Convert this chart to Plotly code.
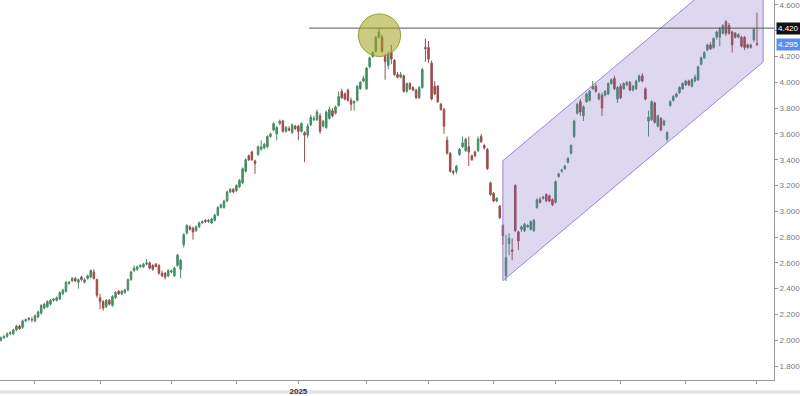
import plotly.graph_objects as go
import pandas as pd

# ---------------- data ----------------
holidays = ["2024-12-25", "2024-12-26", "2025-01-01", "2025-04-18", "2025-04-21", "2025-05-01"]
dates = [d for d in pd.bdate_range("2024-08-16", "2025-08-01") if d.strftime("%Y-%m-%d") not in holidays]

open_ = [
    2.00, 2.02, 2.03, 2.05, 2.05, 2.08, 2.11, 2.10, 2.15, 2.16,
    2.16, 2.15, 2.18, 2.21, 2.25, 2.26, 2.28, 2.31, 2.31, 2.32,
    2.36, 2.38, 2.44, 2.46, 2.48, 2.45, 2.49, 2.45, 2.48, 2.49,
    2.53, 2.47, 2.33, 2.30, 2.26, 2.31, 2.27, 2.33, 2.38, 2.36,
    2.37, 2.39, 2.47, 2.54, 2.55, 2.57, 2.57, 2.59, 2.60, 2.58,
    2.59, 2.58, 2.52, 2.52, 2.50, 2.53, 2.50, 2.58, 2.55, 2.74,
    2.83, 2.88, 2.87, 2.85, 2.88, 2.91, 2.93, 2.92, 2.91, 2.93,
    2.97, 3.03, 3.03, 3.08, 3.15, 3.17, 3.16, 3.19, 3.22, 3.31,
    3.43, 3.46, 3.39, 3.44, 3.48, 3.49, 3.50, 3.58, 3.63, 3.60,
    3.68, 3.70, 3.62, 3.64, 3.61, 3.66, 3.66, 3.62, 3.61, 3.59,
    3.67, 3.71, 3.71, 3.74, 3.66, 3.65, 3.72, 3.78, 3.76, 3.82,
    3.93, 3.91, 3.94, 3.86, 3.84, 3.86, 3.95, 4.01, 3.95, 4.12,
    4.20, 4.24, 4.35, 4.35, 4.20, 4.13, 4.23, 4.17, 4.06, 4.04,
    4.05, 3.93, 3.99, 3.96, 3.94, 3.88, 3.96, 4.27, 4.27, 4.15,
    3.97, 3.97, 3.83, 3.79, 3.55, 3.45, 3.31, 3.31, 3.44, 3.50,
    3.47, 3.50, 3.43, 3.46, 3.47, 3.58, 3.51, 3.48, 3.22, 3.14,
    3.08, 3.04, 2.89, 2.50, 2.75, 2.70, 3.20, 2.84, 2.86, 2.85,
    2.88, 2.86, 2.85, 3.03, 3.09, 3.10, 3.13, 3.12, 3.09, 3.07,
    3.27, 3.31, 3.33, 3.38, 3.45, 3.58, 3.76, 3.85, 3.74, 3.85,
    3.86, 3.95, 3.97, 3.87, 3.90, 3.90, 3.91, 3.99, 4.03, 3.87,
    3.97, 3.95, 3.98, 4.00, 3.94, 3.95, 4.01, 4.05, 3.95, 3.70,
    3.71, 3.84, 3.66, 3.72, 3.67, 3.56, 3.82, 3.86, 3.89, 3.92,
    3.95, 3.98, 4.01, 3.97, 4.01, 4.02, 4.14, 4.19, 4.25, 4.29,
    4.27, 4.35, 4.35, 4.38, 4.47, 4.44, 4.39, 4.38, 4.35, 4.35,
    4.35, 4.29, 4.27, 4.33, 4.30,
]
high = [
    2.03, 2.04, 2.06, 2.07, 2.09, 2.12, 2.12, 2.16, 2.17, 2.18,
    2.18, 2.20, 2.23, 2.28, 2.29, 2.31, 2.32, 2.33, 2.34, 2.38,
    2.40, 2.46, 2.46, 2.49, 2.49, 2.48, 2.50, 2.48, 2.51, 2.55,
    2.55, 2.48, 2.36, 2.31, 2.32, 2.32, 2.35, 2.38, 2.39, 2.39,
    2.40, 2.48, 2.54, 2.58, 2.58, 2.59, 2.60, 2.63, 2.61, 2.59,
    2.60, 2.59, 2.54, 2.53, 2.55, 2.55, 2.57, 2.67, 2.63, 2.83,
    2.90, 2.89, 2.88, 2.89, 2.92, 2.93, 2.94, 2.94, 2.95, 2.98,
    3.04, 3.06, 3.09, 3.16, 3.18, 3.18, 3.21, 3.25, 3.34, 3.41,
    3.44, 3.47, 3.40, 3.51, 3.55, 3.53, 3.59, 3.61, 3.69, 3.66,
    3.71, 3.71, 3.66, 3.66, 3.68, 3.67, 3.67, 3.69, 3.62, 3.68,
    3.75, 3.74, 3.79, 3.76, 3.71, 3.78, 3.81, 3.80, 3.82, 3.93,
    3.95, 3.92, 3.95, 3.88, 3.86, 3.98, 4.01, 4.05, 4.12, 4.20,
    4.24, 4.36, 4.42, 4.37, 4.22, 4.24, 4.29, 4.18, 4.08, 4.08,
    4.06, 4.00, 4.00, 3.97, 3.95, 3.97, 4.11, 4.34, 4.32, 4.17,
    4.01, 3.98, 3.84, 3.80, 3.58, 3.46, 3.32, 3.36, 3.49, 3.58,
    3.57, 3.58, 3.44, 3.47, 3.58, 3.60, 3.52, 3.49, 3.23, 3.15,
    3.11, 3.05, 2.90, 2.82, 2.83, 2.79, 3.21, 2.85, 2.89, 2.91,
    2.90, 2.93, 2.94, 3.10, 3.11, 3.12, 3.14, 3.13, 3.10, 3.24,
    3.30, 3.33, 3.36, 3.42, 3.52, 3.71, 3.84, 3.87, 3.82, 3.92,
    3.94, 4.01, 3.99, 3.92, 3.92, 3.94, 4.00, 4.03, 4.05, 3.97,
    3.99, 4.00, 4.01, 4.01, 3.98, 4.02, 4.06, 4.07, 3.96, 3.78,
    3.86, 3.85, 3.75, 3.73, 3.71, 3.62, 3.86, 3.90, 3.92, 3.97,
    4.00, 4.02, 4.02, 4.03, 4.06, 4.13, 4.20, 4.24, 4.30, 4.31,
    4.35, 4.40, 4.43, 4.45, 4.48, 4.46, 4.40, 4.39, 4.38, 4.36,
    4.36, 4.30, 4.30, 4.42, 4.54,
]
low = [
    1.99, 2.01, 2.02, 2.04, 2.04, 2.07, 2.08, 2.09, 2.14, 2.15,
    2.14, 2.14, 2.17, 2.20, 2.24, 2.25, 2.27, 2.30, 2.30, 2.31,
    2.35, 2.37, 2.43, 2.45, 2.45, 2.40, 2.46, 2.44, 2.47, 2.48,
    2.47, 2.33, 2.24, 2.23, 2.25, 2.27, 2.26, 2.32, 2.35, 2.35,
    2.36, 2.38, 2.46, 2.53, 2.54, 2.56, 2.56, 2.58, 2.55, 2.54,
    2.57, 2.51, 2.49, 2.47, 2.49, 2.52, 2.49, 2.57, 2.48, 2.72,
    2.82, 2.85, 2.78, 2.84, 2.87, 2.90, 2.91, 2.91, 2.90, 2.92,
    2.96, 3.02, 3.02, 3.07, 3.14, 3.14, 3.15, 3.18, 3.21, 3.30,
    3.39, 3.39, 3.29, 3.43, 3.47, 3.48, 3.49, 3.57, 3.62, 3.55,
    3.67, 3.61, 3.61, 3.62, 3.60, 3.63, 3.55, 3.61, 3.38, 3.57,
    3.66, 3.70, 3.70, 3.60, 3.65, 3.64, 3.71, 3.73, 3.75, 3.81,
    3.87, 3.86, 3.85, 3.78, 3.78, 3.85, 3.94, 4.00, 3.94, 4.11,
    4.19, 4.23, 4.34, 4.23, 4.02, 4.10, 4.14, 4.05, 4.03, 4.03,
    3.92, 3.92, 3.94, 3.93, 3.87, 3.87, 3.95, 4.16, 4.15, 3.86,
    3.90, 3.84, 3.78, 3.60, 3.44, 3.30, 3.28, 3.29, 3.43, 3.49,
    3.46, 3.35, 3.39, 3.42, 3.46, 3.53, 3.48, 3.32, 3.12, 3.07,
    3.07, 2.94, 2.74, 2.46, 2.66, 2.62, 2.84, 2.70, 2.84, 2.84,
    2.87, 2.85, 2.84, 3.02, 3.06, 3.09, 3.07, 3.07, 3.04, 3.06,
    3.26, 3.30, 3.32, 3.37, 3.44, 3.57, 3.75, 3.74, 3.70, 3.84,
    3.85, 3.94, 3.92, 3.86, 3.74, 3.89, 3.90, 3.98, 3.94, 3.84,
    3.87, 3.94, 3.97, 3.93, 3.93, 3.94, 4.00, 4.00, 3.86, 3.58,
    3.70, 3.68, 3.65, 3.62, 3.66, 3.54, 3.81, 3.85, 3.88, 3.91,
    3.94, 3.97, 3.97, 3.96, 4.00, 4.01, 4.13, 4.18, 4.24, 4.25,
    4.26, 4.33, 4.28, 4.37, 4.36, 4.37, 4.23, 4.34, 4.34, 4.27,
    4.25, 4.26, 4.26, 4.31, 4.28,
]
close = [
    2.02, 2.03, 2.05, 2.06, 2.08, 2.11, 2.09, 2.15, 2.16, 2.17,
    2.16, 2.19, 2.22, 2.27, 2.28, 2.30, 2.31, 2.32, 2.33, 2.37,
    2.39, 2.45, 2.45, 2.48, 2.46, 2.47, 2.47, 2.47, 2.50, 2.54,
    2.48, 2.35, 2.30, 2.25, 2.31, 2.28, 2.34, 2.37, 2.36, 2.38,
    2.39, 2.47, 2.53, 2.56, 2.57, 2.58, 2.59, 2.60, 2.56, 2.55,
    2.57, 2.52, 2.50, 2.49, 2.54, 2.54, 2.56, 2.66, 2.62, 2.82,
    2.89, 2.86, 2.84, 2.88, 2.91, 2.92, 2.92, 2.93, 2.94, 2.97,
    3.03, 3.05, 3.08, 3.15, 3.17, 3.15, 3.20, 3.24, 3.33, 3.40,
    3.40, 3.40, 3.37, 3.50, 3.50, 3.52, 3.58, 3.60, 3.68, 3.65,
    3.70, 3.62, 3.65, 3.63, 3.67, 3.64, 3.62, 3.68, 3.59, 3.66,
    3.73, 3.72, 3.77, 3.62, 3.70, 3.77, 3.79, 3.74, 3.81, 3.89,
    3.88, 3.87, 3.86, 3.83, 3.85, 3.97, 4.00, 4.03, 4.11, 4.19,
    4.23, 4.35, 4.39, 4.24, 4.16, 4.22, 4.18, 4.06, 4.04, 4.06,
    3.93, 3.99, 3.95, 3.94, 3.88, 3.96, 4.10, 4.26, 4.18, 3.87,
    3.91, 3.85, 3.79, 3.66, 3.45, 3.31, 3.30, 3.35, 3.48, 3.53,
    3.56, 3.46, 3.40, 3.43, 3.56, 3.54, 3.49, 3.33, 3.13, 3.08,
    3.10, 2.95, 2.81, 2.64, 2.79, 2.69, 2.85, 2.77, 2.88, 2.90,
    2.89, 2.92, 2.93, 3.09, 3.07, 3.11, 3.08, 3.08, 3.05, 3.23,
    3.29, 3.32, 3.35, 3.41, 3.51, 3.70, 3.83, 3.77, 3.81, 3.91,
    3.93, 3.97, 3.93, 3.91, 3.80, 3.93, 3.99, 4.02, 3.95, 3.96,
    3.88, 3.99, 4.00, 3.94, 3.97, 4.01, 4.05, 4.01, 3.87, 3.73,
    3.85, 3.69, 3.74, 3.63, 3.70, 3.61, 3.85, 3.89, 3.91, 3.96,
    3.99, 4.01, 3.98, 4.02, 4.04, 4.12, 4.19, 4.23, 4.29, 4.26,
    4.34, 4.39, 4.41, 4.44, 4.38, 4.38, 4.29, 4.35, 4.37, 4.28,
    4.27, 4.27, 4.29, 4.41, 4.295,
]

# y-axis ticks (the 4.400 label is hidden behind the 4.420 price tag in the reference)
y_ticks = [1.8, 2.0, 2.2, 2.4, 2.6, 2.8, 3.0, 3.2, 3.4, 3.6, 3.8, 4.0, 4.2, 4.4, 4.6]
y_tick_text = ["1.800", "2.000", "2.200", "2.400", "2.600", "2.800", "3.000", "3.200",
               "3.400", "3.600", "3.800", "4.000", "4.200", "", "4.600"]

# drawings: resistance level, rising channel, highlighted top
level_price = 4.42
level_start = "2025-01-07 12:00"
channel_dates = ["2025-04-04", "2025-08-05"]
channel_lower = [2.462, 4.157]
channel_upper = [3.392, 5.087]
top_circle_dates = ["2025-01-29 09:00", "2025-02-18 00:00"]
top_circle_prices = [4.20, 4.53]
last_price = 4.295

# ---------------- figure ----------------
fig = go.Figure()

fig.add_trace(go.Scatter(
    x=[channel_dates[0], channel_dates[1], channel_dates[1], channel_dates[0], channel_dates[0]],
    y=[channel_lower[0], channel_lower[1], channel_upper[1], channel_upper[0], channel_lower[0]],
    mode="lines", fill="toself",
    fillcolor="rgba(125,100,195,0.26)",
    line=dict(color="rgba(150,120,210,0.9)", width=1),
    hoverinfo="skip",
))

fig.add_trace(go.Candlestick(
    x=dates, open=open_, high=high, low=low, close=close,
    increasing=dict(line=dict(color="#4f8a68", width=1), fillcolor="#1f9e58"),
    decreasing=dict(line=dict(color="#94504e", width=1), fillcolor="#bb3f3b"),
))

fig.add_trace(go.Scatter(
    x=[level_start, "2025-08-25"], y=[level_price, level_price],
    mode="lines", line=dict(color="#555555", width=1), hoverinfo="skip",
))

fig.add_shape(
    type="circle", xref="x", yref="y",
    x0=top_circle_dates[0], x1=top_circle_dates[1],
    y0=top_circle_prices[0], y1=top_circle_prices[1],
    fillcolor="rgba(160,160,25,0.55)",
    line=dict(color="rgba(140,140,30,0.85)", width=1),
    layer="above",
)

# bottom light strip
fig.add_shape(type="rect", xref="paper", yref="paper", x0=-0.01, x1=1.05,
              y0=-0.036, y1=-0.027, fillcolor="#e4e4e4", line=dict(width=0), layer="below")

# month ticks (first trading day of each month)
month_ticks, month_text = [], []
seen = set()
for d in dates:
    key = (d.year, d.month)
    if key not in seen:
        seen.add(key)
        if key != (2024, 8):
            month_ticks.append(d)
            month_text.append("<b>2025</b>" if key == (2025, 1) else "")

fig.add_annotation(x=1.0, xref="paper", y=level_price, yref="y", text="4.420",
                   xanchor="left", yanchor="middle", showarrow=False,
                   font=dict(family="Liberation Sans, Arial", size=8, color="white"),
                   bgcolor="#111111", borderpad=1, xshift=2)
fig.add_annotation(x=1.0, xref="paper", y=last_price, yref="y", text="4.295",
                   xanchor="left", yanchor="middle", showarrow=False,
                   font=dict(family="Liberation Sans, Arial", size=8, color="white"),
                   bgcolor="#5a8df0", borderpad=1, xshift=2)

fig.update_layout(
    width=800, height=396,
    margin=dict(l=0, r=25, t=0, b=13),
    paper_bgcolor="white", plot_bgcolor="white",
    showlegend=False,
    font=dict(family="Liberation Sans, Arial", size=8, color="#666"),
    xaxis=dict(
        type="date",
        rangeslider=dict(visible=False),
        range=["2024-08-15 17:00", "2025-08-08 12:00"],
        rangebreaks=[dict(bounds=["sat", "mon"]), dict(values=holidays)],
        tickmode="array", tickvals=month_ticks, ticktext=month_text,
        ticks="outside", ticklen=3, tickcolor="#999",
        tickfont=dict(size=8, color="#333"),
        showgrid=False, showline=True, linecolor="#999", linewidth=1,
        zeroline=False,
    ),
    yaxis=dict(
        side="right",
        range=[1.692, 4.638],
        tickmode="array", tickvals=y_ticks, ticktext=y_tick_text,
        ticks="outside", ticklen=3, tickcolor="#999",
        tickfont=dict(size=8, color="#777"),
        showgrid=False, showline=True, linecolor="#999", linewidth=1,
        zeroline=False,
    ),
)

fig.write_html("out.html")
